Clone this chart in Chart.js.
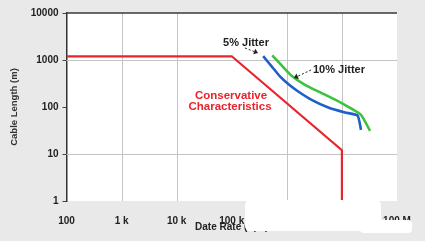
<!DOCTYPE html>
<html>
<head>
<meta charset="utf-8">
<script src="https://cdn.jsdelivr.net/npm/chart.js@4.4.0/dist/chart.umd.min.js"></script>
<style>
  html, body { margin: 0; padding: 0; background: #e9e9e9; }
  canvas { display: block; }
</style>
</head>
<body>
<canvas id="chart" width="425" height="241"></canvas>
<script>
// axis ticks
const rateTicks = [100, 1e3, 1e4, 1e5, 1e6, 1e7, 1e8];
const rateLabels = ["100", "1 k", "10 k", "100 k", "1 M", "10 M", "100 M"];
const lengthTicks = [1, 10, 100, 1000, 10000];
const lengthLabels = ["1", "10", "100", "1000", "10000"];
const rateGrid = [1e3, 1e4, 1e6, 1e7];
const lengthGrid = [10, 1000];

// series (bps, metres)
const conservativeRate = [100, 1e5, 1e7, 1e7];
const conservativeLen = [1200, 1200, 12, 1];
const jitter5Rate = [3.72e5, 5.3e5, 7.5e5, 1.06e6, 1.61e6, 2.82e6, 5.65e6, 1.14e7, 1.93e7, 2.22e7];
const jitter5Len = [1210, 731, 447, 308, 214, 142, 97.5, 76.3, 65.9, 32.6];
const jitter10Rate = [5.43e5, 8.05e5, 1.22e6, 2.13e6, 4.29e6, 9.9e6, 2.22e7, 3.24e7];
const jitter10Len = [1260, 767, 463, 297, 198, 121, 68.2, 31.1];

const red = "#e8242c";
const blue = "#1f5fc9";
const green = "#3cc23c";
const ink = "#222";

const toPoints = (xs, ys) => xs.map((x, i) => ({ x: x, y: ys[i] }));

const background = {
  id: "background",
  beforeDraw(chart) {
    const { ctx, chartArea: a } = chart;
    ctx.save();
    ctx.fillStyle = "#e9e9e9";
    ctx.fillRect(0, 0, chart.width, chart.height);
    ctx.fillStyle = "#fff";
    ctx.fillRect(a.left, a.top, a.right - a.left, a.bottom - a.top);
    ctx.restore();
  },
  beforeDatasetsDraw(chart) {
    const { ctx, chartArea: a, scales } = chart;
    ctx.save();
    ctx.strokeStyle = "#c4c4c4";
    ctx.lineWidth = 1;
    ctx.beginPath();
    rateGrid.forEach((v) => {
      const x = Math.round(scales.x.getPixelForValue(v)) + 0.5;
      ctx.moveTo(x, a.top);
      ctx.lineTo(x, a.bottom);
    });
    lengthGrid.forEach((v) => {
      const y = Math.round(scales.y.getPixelForValue(v)) + 0.5;
      ctx.moveTo(a.left, y);
      ctx.lineTo(a.right, y);
    });
    ctx.stroke();
    // top frame line
    ctx.strokeStyle = "#3a3a3a";
    ctx.lineWidth = 1.5;
    ctx.beginPath();
    const yt = scales.y.getPixelForValue(10000);
    ctx.moveTo(a.left, yt);
    ctx.lineTo(a.right, yt);
    ctx.stroke();
    ctx.restore();
  }
};

function dashedArrow(ctx, x1, y1, x2, y2) {
  ctx.save();
  ctx.strokeStyle = ink;
  ctx.fillStyle = ink;
  ctx.lineWidth = 1;
  ctx.setLineDash([2, 2]);
  const ang = Math.atan2(y2 - y1, x2 - x1);
  const bx = x2 - Math.cos(ang) * 4, by = y2 - Math.sin(ang) * 4;
  ctx.beginPath();
  ctx.moveTo(x1, y1);
  ctx.lineTo(bx, by);
  ctx.stroke();
  ctx.setLineDash([]);
  ctx.beginPath();
  ctx.moveTo(x2, y2);
  ctx.lineTo(bx + Math.sin(ang) * 3, by - Math.cos(ang) * 3);
  ctx.lineTo(bx - Math.sin(ang) * 3, by + Math.cos(ang) * 3);
  ctx.closePath();
  ctx.fill();
  ctx.restore();
}

const notes = {
  id: "notes",
  afterDatasetsDraw(chart) {
    const ctx = chart.ctx;
    ctx.save();
    ctx.textAlign = "center";
    ctx.textBaseline = "middle";
    ctx.font = "bold 11px 'Liberation Sans', Arial, sans-serif";
    ctx.fillStyle = ink;
    ctx.fillText("5% Jitter", 246, 43);
    ctx.textAlign = "left";
    ctx.fillText("10% Jitter", 313, 70);
    ctx.textAlign = "center";
    ctx.fillStyle = red;
    ctx.font = "bold 11.5px 'Liberation Sans', Arial, sans-serif";
    ctx.fillText("Conservative", 231, 96);
    ctx.fillText("Characteristics", 230, 107);
    ctx.restore();
    dashedArrow(ctx, 245, 48, 258, 53);
    dashedArrow(ctx, 311, 70, 294, 78);
  },
  afterDraw(chart) {
    // white patch over the lower right corner
    const ctx = chart.ctx;
    ctx.save();
    ctx.fillStyle = "#fff";
    ctx.beginPath();
    ctx.roundRect(245, 200, 136, 31, 5);
    ctx.fill();
    ctx.beginPath();
    ctx.roundRect(360, 220, 52, 13, 4);
    ctx.fill();
    ctx.restore();
  }
};

new Chart(document.getElementById("chart"), {
  type: "scatter",
  data: {
    datasets: [
      {
        data: toPoints(conservativeRate, conservativeLen),
        showLine: true,
        borderColor: red,
        borderWidth: 2.2,
        pointRadius: 0,
        tension: 0
      },
      {
        data: toPoints(jitter5Rate, jitter5Len),
        showLine: true,
        borderColor: blue,
        borderWidth: 2.6,
        pointRadius: 0,
        tension: 0.15
      },
      {
        data: toPoints(jitter10Rate, jitter10Len),
        showLine: true,
        borderColor: green,
        borderWidth: 2.6,
        pointRadius: 0,
        tension: 0.15
      }
    ]
  },
  options: {
    responsive: false,
    animation: false,
    devicePixelRatio: 1,
    layout: { padding: { top: 13, right: 28, bottom: 0, left: 0 } },
    plugins: { legend: { display: false }, tooltip: { enabled: false } },
    scales: {
      x: {
        type: "logarithmic",
        min: 100,
        max: 1e8,
        afterBuildTicks: (s) => { s.ticks = rateTicks.map((v) => ({ value: v })); },
        afterFit: (s) => { s.height = 40; },
        border: { display: false },
        grid: { display: false },
        ticks: {
          autoSkip: false,
          maxRotation: 0,
          padding: 6,
          color: ink,
          font: { family: "'Liberation Sans', Arial, sans-serif", size: 10, weight: "bold" },
          callback: (v) => rateLabels[rateTicks.indexOf(v)]
        },
        title: {
          display: true,
          text: "Date Rate (bps)",
          color: ink,
          padding: { top: 0, bottom: 8 },
          font: { family: "'Liberation Sans', Arial, sans-serif", size: 10, weight: "bold" }
        }
      },
      y: {
        type: "logarithmic",
        min: 1,
        max: 10000,
        afterBuildTicks: (s) => { s.ticks = lengthTicks.map((v) => ({ value: v })); },
        afterFit: (s) => { s.width = 66.5; },
        border: { display: true, color: "#333", width: 1.5 },
        grid: {
          drawOnChartArea: false,
          tickLength: 4,
          tickColor: "#444"
        },
        ticks: {
          autoSkip: false,
          padding: 4,
          color: ink,
          font: { family: "'Liberation Sans', Arial, sans-serif", size: 10, weight: "bold" },
          callback: (v) => lengthLabels[lengthTicks.indexOf(v)]
        },
        title: {
          display: true,
          text: "Cable Length (m)",
          color: "#333",
          padding: { top: 9, bottom: 0 },
          font: { family: "'Liberation Sans', Arial, sans-serif", size: 9.5, weight: "bold" }
        }
      }
    }
  },
  plugins: [background, notes]
});
</script>
</body>
</html>
